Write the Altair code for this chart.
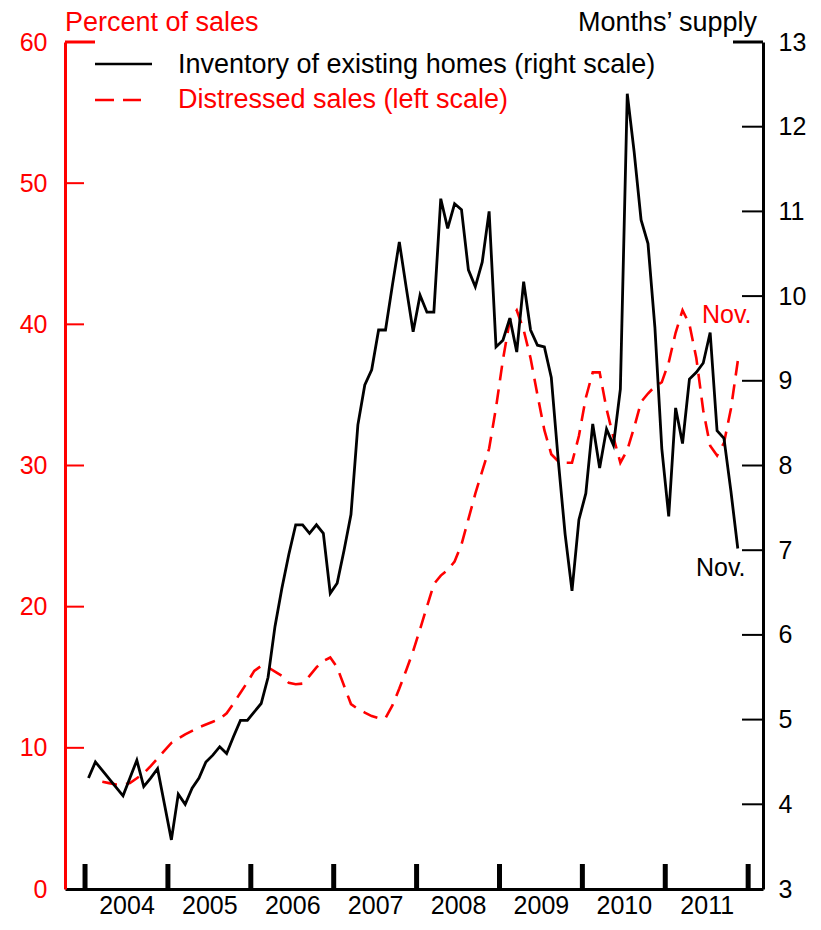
import altair as alt
import pandas as pd

# ---------------- data ----------------
# Inventory of existing homes, months' supply (right scale), Jan 2004 - Nov 2011
inv_2004 = [4.31, 4.50, 4.40, 4.30, 4.20, 4.10, 4.31, 4.52, 4.21, 4.31, 4.42, 4.00]
inv_2005 = [3.58, 4.12, 4.00, 4.19, 4.31, 4.50, 4.58, 4.68, 4.60, 4.80, 4.99, 4.99]
inv_2006 = [5.09, 5.19, 5.50, 6.10, 6.55, 6.95, 7.30, 7.30, 7.20, 7.30, 7.20, 6.49]
inv_2007 = [6.61, 7.00, 7.42, 8.48, 8.95, 9.13, 9.60, 9.60, 10.13, 10.64, 10.10, 9.58]
inv_2008 = [10.01, 9.81, 9.81, 11.15, 10.80, 11.09, 11.02, 10.31, 10.11, 10.40, 11.00, 9.40]
inv_2009 = [9.48, 9.74, 9.34, 10.17, 9.60, 9.42, 9.40, 9.04, 8.07, 7.19, 6.52, 7.36]
inv_2010 = [7.67, 8.49, 7.97, 8.43, 8.24, 8.90, 12.39, 11.70, 10.90, 10.62, 9.63, 8.20]
inv_2011 = [7.40, 8.68, 8.26, 9.02, 9.10, 9.21, 9.57, 8.41, 8.32, 7.70, 7.02]

# Distressed sales, percent of sales (left scale), Mar 2004 - Nov 2011
dis_2004 = [7.6, 7.5, 7.4, 7.4, 7.5, 7.85, 8.2, 8.7, 9.25, 9.8]
dis_2005 = [10.35, 10.65, 10.95, 11.2, 11.45, 11.65, 11.85, 12.05, 12.45, 13.15, 13.9, 14.65]
dis_2006 = [15.45, 15.8, 15.7, 15.4, 15.1, 14.6, 14.5, 14.55, 15.1, 15.7, 16.15, 16.4]
dis_2007 = [15.7, 14.4, 13.1, 12.75, 12.5, 12.25, 12.1, 12.1, 13.0, 14.2, 15.5, 16.85]
dis_2008 = [18.4, 20.0, 21.6, 22.2, 22.6, 23.2, 24.4, 26.2, 28.0, 29.6, 31.2, 34.1]
dis_2009 = [37.5, 40.3, 41.0, 39.6, 37.6, 35.0, 32.5, 30.8, 30.3, 30.2, 30.2, 32.1]
dis_2010 = [34.8, 36.6, 36.6, 34.0, 32.0, 30.2, 31.1, 32.7, 34.5, 35.1, 35.6, 35.9]
dis_2011 = [37.3, 39.4, 41.0, 40.0, 37.6, 33.9, 31.4, 30.7, 31.6, 34.0, 37.4]

years = [2004, 2005, 2006, 2007, 2008, 2009, 2010, 2011]
left_ticks = [0, 10, 20, 30, 40, 50, 60]
right_ticks = [3, 4, 5, 6, 7, 8, 9, 10, 11, 12, 13]
legend_labels = ["Inventory of existing homes (right scale)", "Distressed sales (left scale)"]
left_title = "Percent of sales"
right_title = "Months\u2019 supply"
end_label = "Nov."

inv = inv_2004 + inv_2005 + inv_2006 + inv_2007 + inv_2008 + inv_2009 + inv_2010 + inv_2011
dis = dis_2004 + dis_2005 + dis_2006 + dis_2007 + dis_2008 + dis_2009 + dis_2010 + dis_2011

# month position: 0 = start of Jan 2004, points plotted mid-month
inv_df = pd.DataFrame({"m": [i + 0.5 for i in range(len(inv))], "v": inv})
dis_df = pd.DataFrame({"m": [i + 2.5 for i in range(len(dis))], "v": dis})

# ---------------- style ----------------
FONT = "Liberation Sans"
RED = "#ff0000"
W, H = 698, 847

x_scale = alt.Scale(domain=[-2.9, 98.15], nice=False, zero=False)
x_axis = alt.Axis(
    values=[(y - 2004) * 12 + 6 for y in years],
    labelExpr="toString(2004 + (datum.value - 6) / 12)",
    ticks=False, grid=False, domainColor="black", domainWidth=3,
    labelFontSize=25, labelFont=FONT, labelColor="black", labelPadding=4,
    labelFlush=False, labelOverlap=False, title=None,
)
X = alt.X("m:Q", scale=x_scale, axis=x_axis)

yl_scale = alt.Scale(domain=[0, 60], nice=False, zero=False)
yl_axis = alt.Axis(
    orient="left", values=left_ticks, ticks=False, grid=False,
    domainColor=RED, domainWidth=3, labelColor=RED, labelFontSize=25,
    labelFont=FONT, labelPadding=18, title=None,
)
YL = alt.Y("v:Q", scale=yl_scale, axis=yl_axis)

yr_scale = alt.Scale(domain=[3, 13], nice=False, zero=False)
yr_axis = alt.Axis(
    orient="right", values=right_ticks, ticks=False, grid=False,
    domainColor="black", domainWidth=3, labelColor="black", labelFontSize=25,
    labelFont=FONT, labelPadding=15, title=None,
)
YR = alt.Y("v:Q", scale=yr_scale, axis=yr_axis)

one = pd.DataFrame({"a": [0]})

# ---------------- left-scale layers ----------------
red_line = alt.Chart(dis_df).mark_line(
    color=RED, strokeWidth=2.6, strokeDash=[15, 9], strokeCap="butt"
).encode(x=X, y=YL)

lt_df = pd.DataFrame({"v": left_ticks[1:-1]})
left_tick_marks = alt.Chart(lt_df).mark_rule(color=RED, strokeWidth=2).encode(
    y=YL, x=alt.value(0), x2=alt.value(19))
left_corner = alt.Chart(pd.DataFrame({"v": [left_ticks[-1]]})).mark_rule(
    color=RED, strokeWidth=3).encode(y=YL, x=alt.value(0), x2=alt.value(30))

yt_df = pd.DataFrame({"m": [(y - 2004) * 12 for y in years] + [96]})
year_ticks = alt.Chart(yt_df).mark_rule(color="black", strokeWidth=5).encode(
    x=X, y=alt.value(H - 25), y2=alt.value(H))

red_nov = alt.Chart(dis_df.tail(1).assign(t=end_label)).mark_text(
    color=RED, font=FONT, fontSize=25, align="center", baseline="middle",
    dx=-11, dy=-46).encode(x=X, y=YL, text="t:N")

leg_black_line = alt.Chart(one).mark_rule(color="black", strokeWidth=2.6).encode(
    x=alt.value(30), x2=alt.value(87), y=alt.value(22))
leg_red_line = alt.Chart(one).mark_rule(
    color=RED, strokeWidth=2.6, strokeDash=[19, 9], strokeCap="butt").encode(
    x=alt.value(30), x2=alt.value(76), y=alt.value(58))
leg_black_text = alt.Chart(pd.DataFrame({"t": [legend_labels[0]]})).mark_text(
    color="black", font=FONT, fontSize=27, align="left", baseline="alphabetic"
).encode(x=alt.value(113), y=alt.value(31), text="t:N")
leg_red_text = alt.Chart(pd.DataFrame({"t": [legend_labels[1]]})).mark_text(
    color=RED, font=FONT, fontSize=27, align="left", baseline="alphabetic"
).encode(x=alt.value(113), y=alt.value(66), text="t:N")

title_left = alt.Chart(pd.DataFrame({"t": [left_title]})).mark_text(
    color=RED, font=FONT, fontSize=27, align="left", baseline="alphabetic"
).encode(x=alt.value(0), y=alt.value(-11), text="t:N")
title_right = alt.Chart(pd.DataFrame({"t": [right_title]})).mark_text(
    color="black", font=FONT, fontSize=27, align="right", baseline="alphabetic"
).encode(x=alt.value(W - 6), y=alt.value(-11), text="t:N")

left = alt.layer(
    red_line, left_tick_marks, left_corner, year_ticks, red_nov,
    leg_black_line, leg_red_line, leg_black_text, leg_red_text,
    title_left, title_right,
)

# ---------------- right-scale layers ----------------
black_line = alt.Chart(inv_df).mark_line(color="black", strokeWidth=2.8).encode(x=X, y=YR)

rt_df = pd.DataFrame({"v": right_ticks[1:-1]})
right_tick_marks = alt.Chart(rt_df).mark_rule(color="black", strokeWidth=2).encode(
    y=YR, x=alt.value(W - 21), x2=alt.value(W))
right_corner = alt.Chart(pd.DataFrame({"v": [right_ticks[-1]]})).mark_rule(
    color="black", strokeWidth=3).encode(y=YR, x=alt.value(W - 30), x2=alt.value(W))

black_nov = alt.Chart(inv_df.tail(1).assign(t=end_label)).mark_text(
    color="black", font=FONT, fontSize=25, align="center", baseline="middle",
    dx=-17, dy=19).encode(x=X, y=YR, text="t:N")

right = alt.layer(black_line, right_tick_marks, right_corner, black_nov)

chart = (
    alt.layer(left, right)
    .resolve_scale(y="independent")
    .properties(
        width=W, height=H,
        padding={"left": 57, "top": 34, "right": 50, "bottom": 33},
        autosize=alt.AutoSizeParams(type="none"),
    )
    .configure_view(stroke=None)
)

chart.save("out.html", embed_options={"renderer": "svg", "actions": False})
